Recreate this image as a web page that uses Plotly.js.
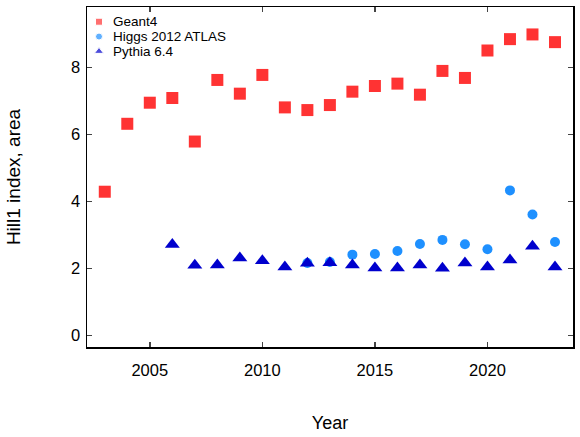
<!DOCTYPE html>
<html><head><meta charset="utf-8">
<script src="https://cdn.plot.ly/plotly-3.0.1.min.js"></script>
<style>html,body{margin:0;padding:0;background:#fff}#chart{width:580px;height:437px}</style>
</head><body><div id="chart"></div>
<script>
const geantYears = [2003,2004,2005,2006,2007,2008,2009,2010,2011,2012,2013,2014,2015,2016,2017,2018,2019,2020,2021,2022,2023];
const geantValues = [4.29,6.32,6.95,7.09,5.79,7.63,7.22,7.78,6.81,6.73,6.88,7.28,7.45,7.52,7.19,7.90,7.69,8.51,8.85,8.99,8.76];
const higgsYears = [2012,2013,2014,2015,2016,2017,2018,2019,2020,2021,2022,2023];
const higgsValues = [2.16,2.19,2.41,2.43,2.52,2.73,2.85,2.72,2.57,4.33,3.61,2.79];
const pythiaYears = [2006,2007,2008,2009,2010,2011,2012,2013,2014,2015,2016,2017,2018,2019,2020,2021,2022,2023];
const pythiaValues = [2.71,2.09,2.10,2.31,2.23,2.04,2.15,2.17,2.10,2.01,2.01,2.10,2.00,2.16,2.04,2.25,2.66,2.04];
const xTicks = [2005,2010,2015,2020];
const yTicks = [0,2,4,6,8];
const seriesNames = ['Geant4','Higgs 2012 ATLAS','Pythia 6.4'];
const seriesColors = ['#ff3333','#1e90ff','#0000cd'];
const seriesSymbols = ['square','circle','triangle-up'];

const traces = [
  {x: geantYears, y: geantValues, name: seriesNames[0], type: 'scatter', mode: 'markers',
   marker: {symbol: seriesSymbols[0], size: 12, color: seriesColors[0]}},
  {x: higgsYears, y: higgsValues, name: seriesNames[1], type: 'scatter', mode: 'markers',
   marker: {symbol: seriesSymbols[1], size: 10, color: seriesColors[1]}},
  {x: pythiaYears, y: pythiaValues, name: seriesNames[2], type: 'scatter', mode: 'markers',
   marker: {symbol: seriesSymbols[2], size: 13, color: seriesColors[2]}}
];

// custom compact legend (keys drawn on an overlay axis in [0,1] space)
const legX = 0.0247, legTextX = 0.0523, legRows = [0.9567, 0.9131, 0.8695];
traces.push({
  x: legRows.map(() => legX), y: legRows, xaxis: 'x2', yaxis: 'y2', type: 'scatter', mode: 'markers',
  showlegend: false, hoverinfo: 'skip',
  marker: {symbol: seriesSymbols, size: [7, 7, 8], color: seriesColors}
});
const annotations = seriesNames.map((n, i) => ({
  xref: 'x2', yref: 'y2', x: legTextX, y: legRows[i], text: n, showarrow: false,
  xanchor: 'left', yanchor: 'middle', borderpad: 0, font: {size: 13.5, color: '#000'}
}));

const layout = {
  width: 580, height: 437,
  margin: {l: 87, r: 7, t: 7, b: 90},
  paper_bgcolor: '#fff', plot_bgcolor: '#fff',
  font: {family: 'Liberation Sans, Arial, sans-serif', color: '#000', size: 14},
  showlegend: false,
  annotations: annotations,
  xaxis: {range: [2002.21, 2023.8], tickvals: xTicks, ticks: 'inside', ticklen: 5, tickwidth: 1.5,
          showline: true, linewidth: 1.5, linecolor: '#000', mirror: 'ticks', showgrid: false, zeroline: false,
          tickfont: {size: 16.5}, ticklabelstandoff: 8,
          title: {text: 'Year', font: {size: 18}, standoff: 38}},
  yaxis: {range: [-0.35, 9.81], tickvals: yTicks, ticks: 'inside', ticklen: 5, tickwidth: 1.5,
          showline: true, linewidth: 1.5, linecolor: '#000', mirror: 'ticks', showgrid: false, zeroline: false,
          tickfont: {size: 16.5}, ticklabelstandoff: 2,
          title: {text: 'Hill1 index, area', font: {size: 19}, standoff: 45}},
  xaxis2: {overlaying: 'x', range: [0, 1], visible: false, fixedrange: true},
  yaxis2: {overlaying: 'y', range: [0, 1], visible: false, fixedrange: true}
};
Plotly.newPlot('chart', traces, layout, {displayModeBar: false, staticPlot: true});
</script>
</body></html>
